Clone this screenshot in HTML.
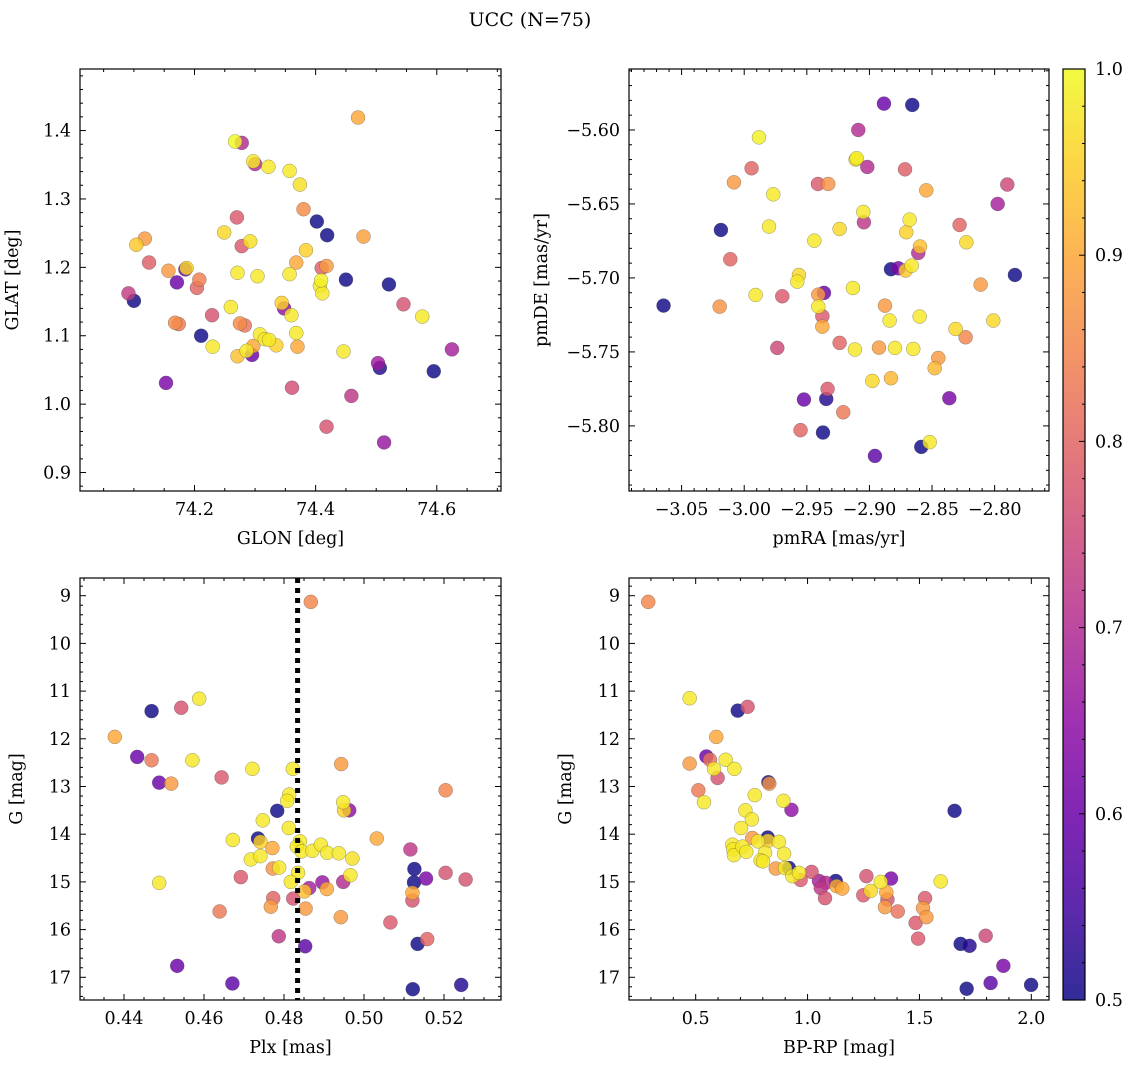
<!DOCTYPE html>
<html><head><meta charset="utf-8">
<style>
html,body{margin:0;padding:0;background:#fff;}
svg{display:block;font-family:"DejaVu Serif","Liberation Serif",serif;}
</style></head>
<body>
<svg id="fig" width="1136" height="1068" viewBox="0 0 1136 1068" xmlns="http://www.w3.org/2000/svg">
<defs>
<linearGradient id="cbgrad" x1="0" y1="1" x2="0" y2="0">
<stop offset="0" stop-color="#0d0887"/><stop offset="0.1" stop-color="#41049d"/><stop offset="0.2" stop-color="#6a00a8"/><stop offset="0.3" stop-color="#8f0da4"/><stop offset="0.4" stop-color="#b12a90"/><stop offset="0.5" stop-color="#cc4778"/><stop offset="0.6" stop-color="#e16462"/><stop offset="0.7" stop-color="#f2844b"/><stop offset="0.8" stop-color="#fca636"/><stop offset="0.9" stop-color="#fcce25"/><stop offset="1" stop-color="#f0f921"/>
</linearGradient>
</defs>
<text x="530" y="26" font-size="19" text-anchor="middle">UCC (N=75)</text>
</svg>
<script>
// ---- Panel 1: GLON vs GLAT ----
const glonTL=[74.470,74.267,74.278,74.297,74.300,74.322,74.357,74.374,74.380,74.270,74.402,74.419,74.479,74.249,74.278,74.292,74.118,74.104,74.125,74.384,74.368,74.410,74.418,74.157,74.185,74.187,74.271,74.304,74.357,74.171,74.208,74.204,74.450,74.521,74.407,74.409,74.411,74.091,74.100,74.545,74.344,74.348,74.260,74.229,74.360,74.576,74.168,74.174,74.275,74.283,74.211,74.308,74.316,74.323,74.335,74.368,74.370,74.230,74.297,74.286,74.295,74.271,74.446,74.625,74.503,74.506,74.595,74.153,74.361,74.459,74.418,74.513];
const glatTL=[1.419,1.384,1.382,1.355,1.351,1.347,1.341,1.321,1.285,1.273,1.267,1.247,1.245,1.251,1.231,1.238,1.242,1.233,1.207,1.225,1.207,1.199,1.202,1.195,1.197,1.199,1.192,1.187,1.190,1.178,1.182,1.170,1.182,1.175,1.173,1.181,1.162,1.162,1.151,1.146,1.148,1.140,1.142,1.130,1.130,1.128,1.119,1.117,1.118,1.115,1.100,1.102,1.095,1.094,1.086,1.104,1.084,1.084,1.085,1.078,1.072,1.070,1.077,1.080,1.060,1.053,1.048,1.031,1.024,1.012,0.967,0.944];
const probTL=[0.9,1.0,0.7,0.98,0.7,0.98,0.98,0.97,0.86,0.78,0.5,0.5,0.89,0.96,0.78,0.97,0.88,0.94,0.79,0.95,0.9,0.79,0.88,0.88,0.6,0.96,0.98,0.98,0.98,0.6,0.84,0.8,0.5,0.5,0.98,0.99,0.98,0.73,0.5,0.77,0.95,0.65,0.98,0.77,0.98,0.98,0.86,0.83,0.86,0.82,0.5,0.98,0.98,0.98,0.95,0.98,0.9,0.98,0.9,0.98,0.6,0.93,0.98,0.68,0.67,0.52,0.5,0.62,0.76,0.72,0.77,0.66];
const ticksTLx=[74.2,74.4,74.6];
const ticksTLy=[0.9,1.0,1.1,1.2,1.3,1.4];

// ---- Panel 2: pmRA vs pmDE ----
const pmraTR=[-2.8884,-2.8658,-2.9089,-2.9882,-2.9110,-2.9102,-2.9017,-2.9941,-2.8716,-3.0082,-2.9411,-2.9329,-2.8546,-2.7899,-2.9768,-2.7976,-2.9049,-2.9044,-2.8679,-2.8706,-3.0186,-2.9802,-2.9238,-2.9440,-2.8280,-2.8226,-2.8596,-2.8610,-3.0111,-2.8828,-2.8769,-2.8711,-2.8663,-2.7838,-2.9563,-2.9576,-2.8112,-2.9132,-2.9909,-2.9696,-2.9363,-2.9408,-3.0644,-3.0196,-2.8876,-2.9408,-2.9376,-2.9376,-2.8839,-2.8599,-2.8011,-2.8312,-2.8232,-2.9736,-2.9238,-2.9116,-2.8924,-2.8796,-2.8650,-2.8450,-2.8479,-2.8977,-2.8828,-2.9334,-2.9523,-2.9345,-2.8362,-2.9209,-2.9550,-2.9371,-2.8586,-2.8519,-2.8956];
const pmdeTR=[-5.5822,-5.5831,-5.6000,-5.6050,-5.6200,-5.6191,-5.6250,-5.6259,-5.6266,-5.6354,-5.6365,-5.6365,-5.6408,-5.6369,-5.6435,-5.6500,-5.6554,-5.6624,-5.6606,-5.6691,-5.6676,-5.6653,-5.6669,-5.6748,-5.6642,-5.6759,-5.6788,-5.6831,-5.6874,-5.6941,-5.6935,-5.6950,-5.6917,-5.6980,-5.6980,-5.7025,-5.7045,-5.7068,-5.7115,-5.7124,-5.7101,-5.7113,-5.7187,-5.7194,-5.7187,-5.7194,-5.7259,-5.7329,-5.7288,-5.7261,-5.7288,-5.7345,-5.7401,-5.7473,-5.7439,-5.7484,-5.7471,-5.7473,-5.7480,-5.7541,-5.7610,-5.7696,-5.7678,-5.7750,-5.7822,-5.7818,-5.7813,-5.7908,-5.8029,-5.8045,-5.8142,-5.8110,-5.8203];
const probTR=[0.6,0.5,0.7,0.99,0.95,0.99,0.7,0.8,0.79,0.88,0.78,0.87,0.9,0.75,0.98,0.68,0.98,0.72,0.98,0.95,0.5,0.98,0.96,0.98,0.8,0.96,0.93,0.7,0.8,0.5,0.62,0.94,0.98,0.5,0.96,0.98,0.88,0.98,0.98,0.78,0.6,0.88,0.5,0.87,0.88,0.98,0.78,0.9,0.98,0.98,0.96,0.96,0.85,0.75,0.8,0.98,0.88,0.98,0.98,0.88,0.92,0.96,0.92,0.78,0.6,0.52,0.62,0.83,0.8,0.5,0.5,0.98,0.58];
const ticksTRx=[-3.05,-3.00,-2.95,-2.90,-2.85,-2.80];
const ticksTRy=[-5.80,-5.75,-5.70,-5.65,-5.60];

// ---- Panel 3: Plx vs G ----
const plxBL=[0.4867,0.4588,0.4469,0.4543,0.4377,0.4433,0.4469,0.4571,0.4488,0.4518,0.4644,0.4721,0.4822,0.4943,0.5204,0.4813,0.4808,0.4948,0.4963,0.4950,0.4783,0.4747,0.4812,0.4735,0.4741,0.4672,0.4771,0.4840,0.4832,0.4844,0.4871,0.4892,0.4908,0.4937,0.4971,0.5032,0.4717,0.4741,0.5116,0.5126,0.4772,0.4788,0.4692,0.4835,0.4488,0.4817,0.4966,0.5125,0.5155,0.5204,0.5254,0.4863,0.4896,0.4907,0.4948,0.4851,0.5121,0.5121,0.4773,0.4823,0.4767,0.4854,0.4639,0.4942,0.5066,0.5158,0.5134,0.4787,0.4853,0.4533,0.4671,0.5122,0.5243];
const gBL=[9.13,11.16,11.42,11.35,11.96,12.38,12.45,12.45,12.92,12.94,12.81,12.63,12.63,12.53,13.08,13.17,13.30,13.33,13.50,13.50,13.51,13.71,13.87,14.09,14.16,14.12,14.29,14.15,14.26,14.36,14.35,14.22,14.39,14.40,14.51,14.09,14.53,14.46,14.32,14.73,14.72,14.70,14.90,14.81,15.02,15.00,14.86,15.01,14.93,14.81,14.95,15.13,15.01,15.15,15.00,15.20,15.23,15.39,15.34,15.35,15.52,15.56,15.62,15.74,15.85,16.20,16.30,16.14,16.35,16.76,17.13,17.25,17.16];
const probBL=[0.85,0.98,0.5,0.77,0.9,0.6,0.83,0.98,0.6,0.88,0.78,0.98,0.98,0.88,0.85,0.98,0.98,0.98,0.65,0.95,0.5,0.98,0.98,0.5,0.95,0.98,0.9,0.98,0.98,0.98,0.98,0.98,0.98,0.98,0.97,0.9,0.98,0.98,0.72,0.5,0.87,0.98,0.78,0.98,0.98,0.98,0.98,0.5,0.62,0.77,0.77,0.68,0.66,0.9,0.7,0.93,0.9,0.77,0.8,0.77,0.88,0.88,0.83,0.88,0.78,0.8,0.5,0.72,0.58,0.6,0.58,0.5,0.52];
const plxRef=[0.4834];
const ticksBLx=[0.44,0.46,0.48,0.50,0.52];
const ticksGy=[9,10,11,12,13,14,15,16,17];

// ---- Panel 4: BP-RP vs G ----
const bprpBR=[0.288,0.473,0.688,0.732,0.592,0.548,0.564,0.634,0.582,0.673,0.473,0.598,0.512,0.825,0.829,0.537,0.764,0.892,0.928,0.722,0.751,1.657,0.703,0.822,0.753,0.778,0.823,0.872,0.664,0.668,0.671,0.709,0.726,0.810,0.895,0.790,0.801,0.858,0.917,0.899,0.932,0.962,0.969,1.018,1.051,1.081,1.059,1.078,1.126,1.130,1.155,1.263,1.249,1.282,1.327,1.373,1.352,1.357,1.346,1.403,1.525,1.516,1.531,1.483,1.494,1.595,1.684,1.724,1.796,1.875,1.711,1.818,1.999];
const gBR=[9.13,11.15,11.41,11.33,11.96,12.37,12.44,12.44,12.63,12.63,12.52,12.82,13.08,12.91,12.94,13.33,13.18,13.30,13.49,13.50,13.69,13.51,13.87,14.07,14.08,14.15,14.14,14.16,14.22,14.32,14.44,14.26,14.37,14.39,14.41,14.55,14.57,14.72,14.71,14.71,14.88,14.81,14.96,14.79,14.98,15.02,15.13,15.34,14.98,15.09,15.14,14.88,15.28,15.19,15.00,14.93,15.22,15.37,15.53,15.62,15.34,15.55,15.74,15.86,16.19,14.99,16.30,16.34,16.13,16.76,17.24,17.12,17.16];
const probBR=[0.85,0.98,0.5,0.77,0.9,0.6,0.82,0.98,0.98,0.98,0.88,0.77,0.83,0.5,0.87,0.98,0.98,0.98,0.65,0.98,0.98,0.5,0.98,0.5,0.88,0.98,0.95,0.98,0.98,0.98,0.98,0.98,0.98,0.98,0.98,0.98,0.98,0.88,0.5,0.98,0.98,0.98,0.78,0.77,0.68,0.7,0.72,0.77,0.5,0.9,0.9,0.77,0.78,0.96,0.98,0.62,0.9,0.77,0.88,0.82,0.78,0.88,0.88,0.78,0.78,0.98,0.5,0.52,0.75,0.62,0.5,0.58,0.5];
const ticksBRx=[0.5,1.0,1.5,2.0];

const cbTicks=[0.5,0.6,0.7,0.8,0.9,1.0];

const NS="http://www.w3.org/2000/svg";
const svg=document.getElementById('fig');
const plasma=["#0d0887","#41049d","#6a00a8","#8f0da4","#b12a90","#cc4778","#e16462","#f2844b","#fca636","#fcce25","#f0f921"];
function hex(h){return [parseInt(h.substr(1,2),16),parseInt(h.substr(3,2),16),parseInt(h.substr(5,2),16)];}
function cmap(v){let t=(v-0.5)/0.5;t=Math.max(0,Math.min(1,t));const f=t*10;const i=Math.min(9,Math.floor(f));const r=f-i;const a=hex(plasma[i]),b=hex(plasma[i+1]);return 'rgb('+a.map((c,k)=>Math.round(c+(b[k]-c)*r)).join(',')+')';}
function el(tag,attrs,parent){const e=document.createElementNS(NS,tag);for(const k in attrs)e.setAttribute(k,attrs[k]);(parent||svg).appendChild(e);return e;}
function fmt(v,d){const s=Math.abs(v).toFixed(d);return (v<0?'\u2212':'')+s;}
const FS=17.5;

function panel(p){
  const g=el('g',{});
  
  
  const X=v=>p.L+(v-p.x0)/(p.x1-p.x0)*(p.R-p.L);
  const Y=v=>p.yinv? p.T+(v-p.y0)/(p.y1-p.y0)*(p.B-p.T) : p.B-(v-p.y0)/(p.y1-p.y0)*(p.B-p.T);
  const tk=el('g',{stroke:'#000','stroke-width':1},g);
  
  
  const xs=p.xt[1]-p.xt[0], ys=p.yt[1]-p.yt[0];
  const xm=xs/p.xdiv, ym=ys/p.ydiv;
  for(let v=p.xt[0]-Math.ceil((p.xt[0]-p.x0)/xm)*xm; v<=p.x1+1e-9; v+=xm){
    const x=X(v); if(x<p.L-0.1||x>p.R+0.1) continue;
    const maj=(Math.abs(((v-p.xt[0])/xs)-Math.round((v-p.xt[0])/xs))<1e-6);
    const len=maj?6:3;
    el('line',{x1:x,x2:x,y1:p.B,y2:p.B-len},tk);el('line',{x1:x,x2:x,y1:p.T,y2:p.T+len},tk);
  }
  const ylo=Math.min(p.y0,p.y1), yhi=Math.max(p.y0,p.y1);
  for(let v=p.yt[0]-Math.ceil((p.yt[0]-ylo)/ym)*ym; v<=yhi+1e-9; v+=ym){
    const y=Y(v); if(y<p.T-0.1||y>p.B+0.1) continue;
    const maj=(Math.abs(((v-p.yt[0])/ys)-Math.round((v-p.yt[0])/ys))<1e-6);
    const len=maj?6:3;
    el('line',{x1:p.L,x2:p.L+len,y1:y,y2:y},tk);el('line',{x1:p.R,x2:p.R-len,y1:y,y2:y},tk);
  }
  p.xt.forEach(v=>{const t=el('text',{x:X(v),y:p.B+24,'font-size':FS,'text-anchor':'middle'},g);t.textContent=fmt(v,p.xd);
    
    });
  p.yt.forEach(v=>{const t=el('text',{x:p.L-9,y:Y(v)+6,'font-size':FS,'text-anchor':'end'},g);t.textContent=fmt(v,p.yd);
    
    });
  const xt=el('text',{x:(p.L+p.R)/2,y:p.B+53,'font-size':FS,'text-anchor':'middle'},g);xt.textContent=p.xl;
  
  
  const yx=p.L-p.ylOff, yy=(p.T+p.B)/2;
  const yt=el('text',{x:yx,y:yy,'font-size':FS,'text-anchor':'middle',transform:'rotate(-90 '+yx+' '+yy+')'},g);yt.textContent=p.yl;
  
  
  const cid='clip'+p.name;
  const cp=el('clipPath',{id:cid},g);el('rect',{x:p.L,y:p.T,width:p.R-p.L,height:p.B-p.T},cp);
  const pts=el('g',{'clip-path':'url(#'+cid+')'},g);
  
  
  const idx=p.xv.map((_,i)=>i).sort((a,b)=>p.cv[a]-p.cv[b]);
  idx.forEach(i=>{
    const c=el('circle',{cx:X(p.xv[i]),cy:Y(p.yv[i]),r:7,fill:cmap(p.cv[i]),'fill-opacity':0.82,stroke:'rgba(70,70,70,0.55)','stroke-width':0.5},pts);
    
    
  });
  if(p.vline){p.vline.forEach(v=>{const l=el('line',{x1:X(v),x2:X(v),y1:p.T,y2:p.B,stroke:'#000','stroke-width':5,'stroke-dasharray':'5 5'},pts);
    
    });}
  const fr=el('rect',{x:p.L,y:p.T,width:p.R-p.L,height:p.B-p.T,fill:'none',stroke:'#000','stroke-width':1.2},g);
  
  
}

panel({name:'glon-glat-panel',L:80,R:501,T:69,B:491,x0:74.011,x1:74.706,y0:0.873,y1:1.490,xt:ticksTLx,yt:ticksTLy,xdiv:4,ydiv:5,xd:1,yd:1,xl:'GLON [deg]',yl:'GLAT [deg]',ylOff:62,xv:glonTL,yv:glatTL,cv:probTL});
panel({name:'pm-panel',L:629,R:1049,T:69,B:491,x0:-3.092,x1:-2.7566,y0:-5.844,y1:-5.5588,xt:ticksTRx,yt:ticksTRy,xdiv:5,ydiv:5,xd:2,yd:2,xl:'pmRA [mas/yr]',yl:'pmDE [mas/yr]',ylOff:82,xv:pmraTR,yv:pmdeTR,cv:probTR});
panel({name:'plx-g-panel',L:80,R:501,T:578,B:1000,x0:0.429,x1:0.53425,y0:8.629,y1:17.476,yinv:true,xt:ticksBLx,yt:ticksGy,xdiv:4,ydiv:5,xd:2,yd:0,xl:'Plx [mas]',yl:'G [mag]',ylOff:58,xv:plxBL,yv:gBL,cv:probBL,vline:plxRef});
panel({name:'cmd-panel',L:629,R:1049,T:578,B:1000,x0:0.202,x1:2.079,y0:8.629,y1:17.476,yinv:true,xt:ticksBRx,yt:ticksGy,xdiv:5,ydiv:5,xd:1,yd:0,xl:'BP-RP [mag]',yl:'G [mag]',ylOff:58,xv:bprpBR,yv:gBR,cv:probBR});

const cb=el('g',{});


const cT=69,cB=1000,cL=1063,cR=1085;
el('rect',{x:cL,y:cT,width:cR-cL,height:cB-cT,fill:'url(#cbgrad)','fill-opacity':0.85},cb);
el('rect',{x:cL,y:cT,width:cR-cL,height:cB-cT,fill:'none',stroke:'#000','stroke-width':1.2},cb);
const CY=v=>cB-(v-0.5)/0.5*(cB-cT);
for(let k=0;k<=25;k++){const v=0.5+k*0.02;const maj=k%5===0;el('line',{x1:cR,x2:cR-(maj?6:3),y1:CY(v),y2:CY(v),stroke:'#000','stroke-width':1},cb);}
cbTicks.forEach(v=>{const t=el('text',{x:cR+10,y:CY(v)+6,'font-size':FS},cb);t.textContent=v.toFixed(1);
  
  });
</script>
</body></html>
